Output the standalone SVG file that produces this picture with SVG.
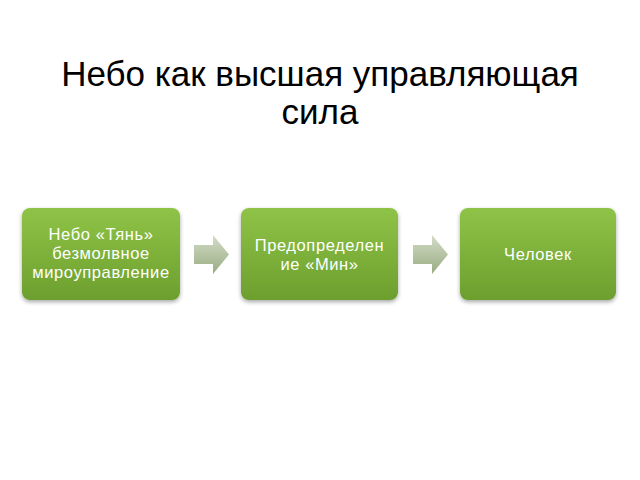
<svg xmlns="http://www.w3.org/2000/svg" width="640" height="480" viewBox="0 0 640 480">
<defs>
<linearGradient id="g" x1="0" y1="0" x2="0" y2="1">
<stop offset="0" stop-color="#8fc347"/>
<stop offset="1" stop-color="#6c9f2e"/>
</linearGradient>
<linearGradient id="a" x1="0" y1="0" x2="0" y2="1">
<stop offset="0" stop-color="#d3dcc6"/>
<stop offset="1" stop-color="#98ac82"/>
</linearGradient>
<filter id="s" x="-10%" y="-10%" width="120%" height="130%">
<feGaussianBlur in="SourceAlpha" stdDeviation="2"/>
<feOffset dy="2"/>
<feComponentTransfer><feFuncA type="linear" slope="0.35"/></feComponentTransfer>
<feMerge><feMergeNode/><feMergeNode in="SourceGraphic"/></feMerge>
</filter>
</defs>
<style>
.box{fill:url(#g);filter:url(#s)}
.t{font-family:"Liberation Sans",Arial,sans-serif;font-size:16.5px;letter-spacing:0.6px;fill:#fff;text-anchor:middle}
.title{font-family:"Liberation Sans",Arial,sans-serif;font-size:35px;fill:#000;text-anchor:middle}
.arr{fill:url(#a)}
</style>
<text class="title" x="320" y="86">Небо как высшая управляющая</text>
<text class="title" x="320" y="124">сила</text>
<g id="connectors">
<path class="arr" d="M194,245 H213 V235 L229,254.5 L213,274 V264 H194 Z"/>
<path class="arr" d="M413,245 H432 V235 L448,254.5 L432,274 V264 H413 Z"/>
</g>
<g id="n1">
<rect class="box" x="22" y="208" width="158" height="92" rx="8"/>
<text class="t" x="101" y="240">Небо «Тянь»</text>
<text class="t" x="101" y="259">безмолвное</text>
<text class="t" x="101" y="278">мироуправление</text>
</g>
<g id="n2">
<rect class="box" x="241" y="208" width="157" height="92" rx="8"/>
<text class="t" x="319.5" y="251">Предопределен</text>
<text class="t" x="319.5" y="270">ие «Мин»</text>
</g>
<g id="n3">
<rect class="box" x="460" y="208" width="156" height="92" rx="8"/>
<text class="t" x="538" y="260">Человек</text>
</g>
</svg>
